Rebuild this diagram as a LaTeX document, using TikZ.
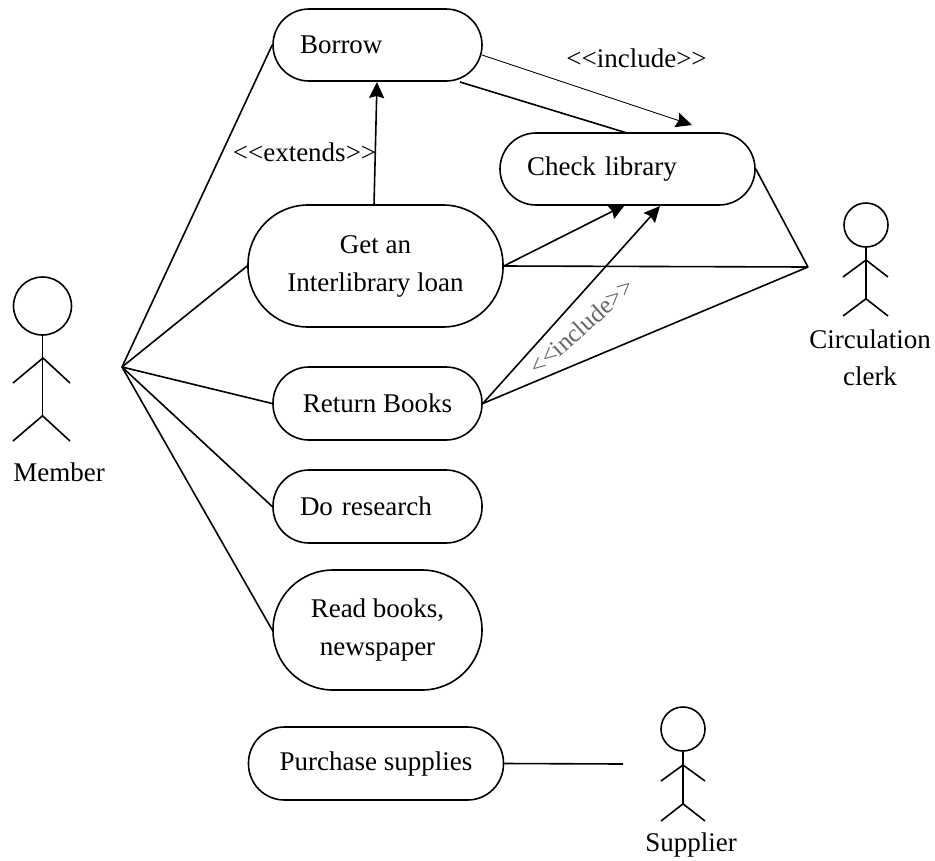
\documentclass[tikz,border=0pt]{standalone}
\usepackage{fontspec}
\setmainfont{Liberation Serif}
\usetikzlibrary{arrows.meta}
\tikzset{
  usecase/.style = {draw, rectangle, line width=1.6pt, inner sep=0pt, rounded corners=#1},
  usecase/.default = 36pt,
  lbl/.style = {font=\fontsize{27}{37}\selectfont, align=center, inner sep=0pt},
  assoc/.style = {line width=1.6pt},
  incl/.style = {-{Stealth[length=16pt,width=15pt,inset=2pt]}},
}
\begin{document}
\begin{tikzpicture}[x=1pt, y=-1pt, every node/.style={font=\fontsize{27}{38}\selectfont}]
\useasboundingbox (0,0) rectangle (935,860);
% use cases
\node[usecase, minimum width=209pt, minimum height=72pt, text width=155pt, align=left] (borrow) at (377.5,45) {Borrow};
\node[usecase, minimum width=255pt, minimum height=72pt, text width=201pt, align=left] (check) at (627.5,169) {Check library};
\node[usecase=60pt, minimum width=255pt, minimum height=122pt, align=center] (getloan) at (375.5,266) {Get an\\Interlibrary loan};
\node[usecase, minimum width=209pt, minimum height=73pt, align=center] (return) at (377.5,403.5) {Return Books};
\node[usecase, minimum width=209pt, minimum height=73pt, text width=155pt, align=left] (research) at (377.5,506.5) {Do research};
\node[usecase=60pt, minimum width=209pt, minimum height=120pt, align=center] (read) at (377.5,630) {Read books,\\newspaper};
\node[usecase, minimum width=255pt, minimum height=73pt, align=center] (purchase) at (376,763.5) {Purchase supplies};
% member
\node[draw, circle, line width=1.6pt, minimum size=58pt, inner sep=0pt] (memberhead) at (42.5,306) {};
\draw[assoc] (memberhead.south) -- ++(0,80) coordinate (memberhip);
\draw[assoc] (13,383) -- (43,358) -- (70,383);
\draw[assoc] (13,441) -- (memberhip) -- (70,441);
\node[lbl] (member) at (59,472) {Member};
% circulation clerk
\node[draw, circle, line width=1.6pt, minimum size=44pt, inner sep=0pt] (clerkhead) at (866,225) {};
\draw[assoc] (clerkhead.south) -- ++(0,51) coordinate (clerkhip);
\draw[assoc] (843,277) -- (866,260) -- (888,277);
\draw[assoc] (843,316) -- (clerkhip) -- (888,316);
\node[lbl] (clerk) at (870,358) {Circulation\\clerk};
% supplier
\node[draw, circle, line width=1.6pt, minimum size=44pt, inner sep=0pt] (supplierhead) at (683,729) {};
\draw[assoc] (supplierhead.south) -- ++(0,52) coordinate (supplierhip);
\draw[assoc] (661,781) -- (683,765) -- (705,781);
\draw[assoc] (661,821) -- (supplierhip) -- (705,821);
\node[lbl] (supplier) at (691,845) {Supplier};
% free ends
\coordinate (memberhand) at (122,367);
\coordinate (clerkhand) at (808,267);
\coordinate (supplierhand) at (623,764);
\coordinate (checkin) at (692,125);
\coordinate (borrowout) at (482,55);
\coordinate (borrowlow) at (460,82);
\coordinate (checktop) at (627,133);
\coordinate (checka) at (625,205);
\coordinate (checkb) at (660,206);
\coordinate (borrowin) at (377,82);
\coordinate (getup) at (374,205);
% connectors
\draw[assoc] (memberhand) -- (borrow.west);
\draw[assoc] (memberhand) -- (getloan.west);
\draw[assoc] (memberhand) -- (return.west);
\draw[assoc] (memberhand) -- (research.west);
\draw[assoc] (memberhand) -- (read.west);
\draw[assoc] (check.east) -- (clerkhand);
\draw[assoc] (getloan.east) -- (clerkhand);
\draw[assoc] (return.east) -- (clerkhand);
\draw[assoc] (purchase.east) -- (supplierhand);
\draw[assoc] (borrowlow) -- (checktop);
\draw[incl, line width=0.9pt] (borrowout) -- (checkin);
\draw[incl, assoc] (getup) -- (borrowin);
\draw[incl, assoc] (getloan.east) -- (checka);
\draw[incl, assoc] (return.east) -- (checkb);
% labels
\node[lbl] (extends) at (304.5,152) {<{}<extends>{}>};
\node[lbl] (include) at (636.5,58) {<{}<include>{}>};
\node[lbl, rotate=42, text=gray!80!black, font=\fontsize{25}{28}\selectfont] (includeb) at (581.5,326.5) {<{}<include>{}>};
\end{tikzpicture}
\end{document}
